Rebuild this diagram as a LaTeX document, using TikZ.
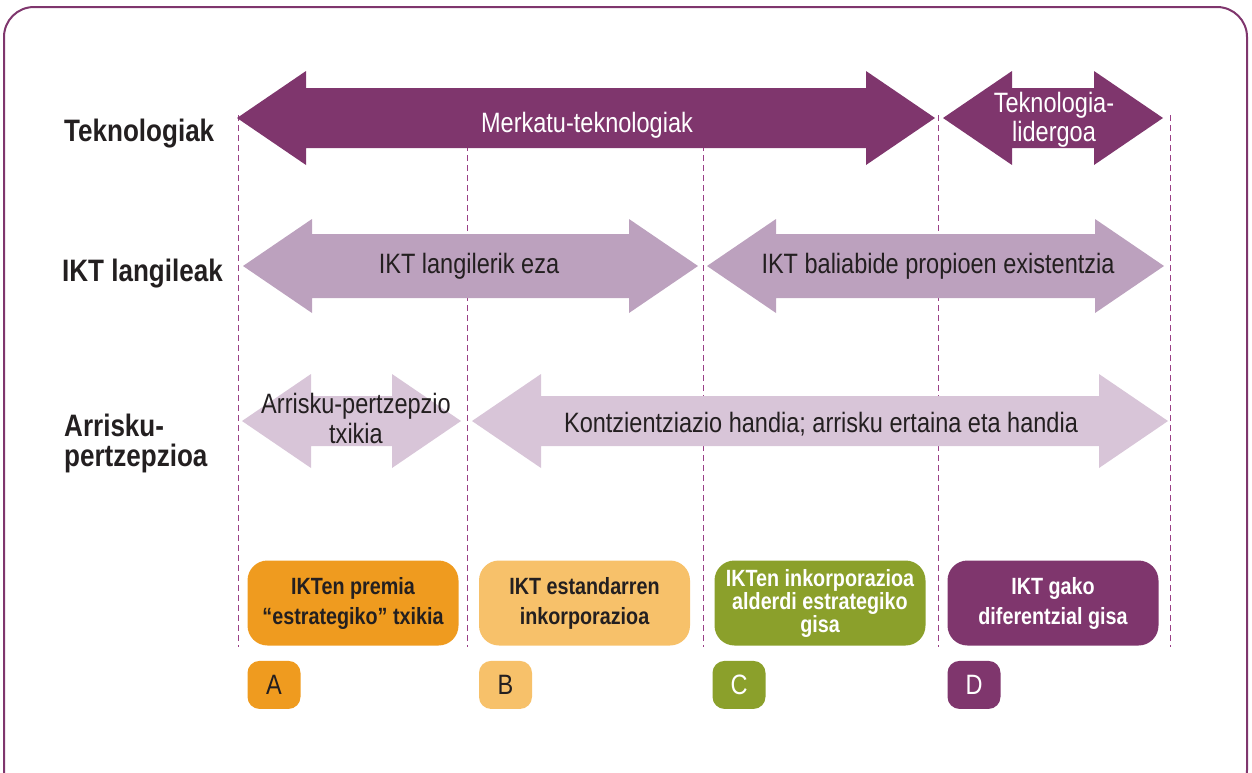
\documentclass[tikz,border=0pt]{standalone}
\usepackage{fontspec}
\setmainfont{Liberation Sans}[FakeStretch=0.84]
\usetikzlibrary{positioning}
\definecolor{plumdark}{HTML}{7F366D}
\definecolor{plummid}{HTML}{BCA1BE}
\definecolor{plumlight}{HTML}{D8C5D8}
\definecolor{guidecol}{HTML}{9A3F87}
\definecolor{orangeA}{HTML}{EF9B1F}
\definecolor{orangeB}{HTML}{F7C16A}
\definecolor{greenC}{HTML}{8BA02B}
\definecolor{inkdark}{HTML}{231F20}

\begin{document}
\begin{tikzpicture}[x=1pt, y=-1pt,
  guide/.style = {draw=guidecol, line width=1pt, dash pattern=on 6pt off 4pt},
  rowlbl/.style = {inner sep=0pt, text=inkdark, font=\bfseries\fontsize{31}{29}\selectfont},
  wlbl/.style = {inner sep=0pt, text=white, font=\fontsize{28}{29}\selectfont},
  dlbl/.style = {inner sep=0pt, text=inkdark, font=\fontsize{28}{30}\selectfont},
  stage/.style = {rounded corners=20pt, minimum width=211pt, minimum height=85pt,
    inner sep=2pt, align=center, text=inkdark,
    font=\bfseries\fontsize{23.5}{30}\selectfont},
  tag/.style = {rounded corners=12pt, minimum width=53pt, minimum height=48pt,
    inner sep=0pt, text=inkdark, font=\fontsize{28}{30}\selectfont},
  pics/dblarrow/.style args={#1/#2/#3}{code={
    \fill[#1] (0,0) -- (69,-47) -- (69,-#3) -- ({#2-69},-#3) -- ({#2-69},-47)
      -- (#2,0) -- ({#2-69},47) -- ({#2-69},#3) -- (69,#3) -- (69,47) -- cycle;}}]
  \useasboundingbox (0,0) rectangle (1252,772);
  \clip (0,0) rectangle (1252,772);
  % frame
  \draw[plumdark, line width=2pt, rounded corners=30pt] (4,7) rectangle (1247,800);
  % column guides
  \foreach \x in {238,467,703,938,1170}
    \draw[guide] (\x,115) -- (\x,647);

  % row labels
  \node[rowlbl, anchor=base west] (tekno) at (64,141) {Teknologiak};
  \node[rowlbl, anchor=base west] (langile) at (62,281) {IKT langileak};
  \node[rowlbl, align=left, anchor=west, font=\bfseries\fontsize{31}{30}\selectfont] (arrisku) at (64,443) {Arrisku-\\pertzepzioa};

  % arrows
  \pic at (237,118) {dblarrow=plumdark/698/30};
  \pic at (943,118) {dblarrow=plumdark/220/30};
  \pic at (243,266) {dblarrow=plummid/455/32};
  \pic at (707,266) {dblarrow=plummid/457/32};
  \pic at (242,421) {dblarrow=plumlight/219/25};
  \pic at (472,421) {dblarrow=plumlight/696/25};

  \node[wlbl, anchor=base] (merkatu) at (587,132) {Merkatu-teknologiak};
  \node[wlbl, align=center] (lider) at (1054,120) {Teknologia-\\lidergoa};
  \node[dlbl, anchor=base] (langilerik) at (469,273) {IKT langilerik eza};
  \node[dlbl, anchor=base] (baliabide) at (938,273) {IKT baliabide propioen existentzia};
  \node[dlbl, align=center] (txikia) at (356,418) {Arrisku-pertzepzio\\txikia};
  \node[dlbl, anchor=base] (kontzientzia) at (821,432) {Kontzientziazio handia; arrisku ertaina eta handia};

  % stages
  \node[stage, fill=orangeA] (boxa) at (353,603) {IKTen premia\\“estrategiko” txikia};
  \node[stage, fill=orangeB] (boxb) at (584.5,603) {IKT estandarren\\inkorporazioa};
  \node[stage, fill=greenC, text=white, font=\bfseries\fontsize{23.5}{23}\selectfont] (boxc) at (820,603)
    {IKTen inkorporazioa\\alderdi estrategiko\\gisa};
  \node[stage, fill=plumdark, text=white] (boxd) at (1053,603) {IKT gako\\diferentzial gisa};

  \node[tag, fill=orangeA, below right=15pt and 0pt of boxa.south west] (taga) {A};
  \node[tag, fill=orangeB, below right=15pt and 0pt of boxb.south west] (tagb) {B};
  \node[tag, fill=greenC, text=white, below right=15pt and -2pt of boxc.south west] (tagc) {C};
  \node[tag, fill=plumdark, text=white, below right=15pt and 0pt of boxd.south west] (tagd) {D};
\end{tikzpicture}
\end{document}
